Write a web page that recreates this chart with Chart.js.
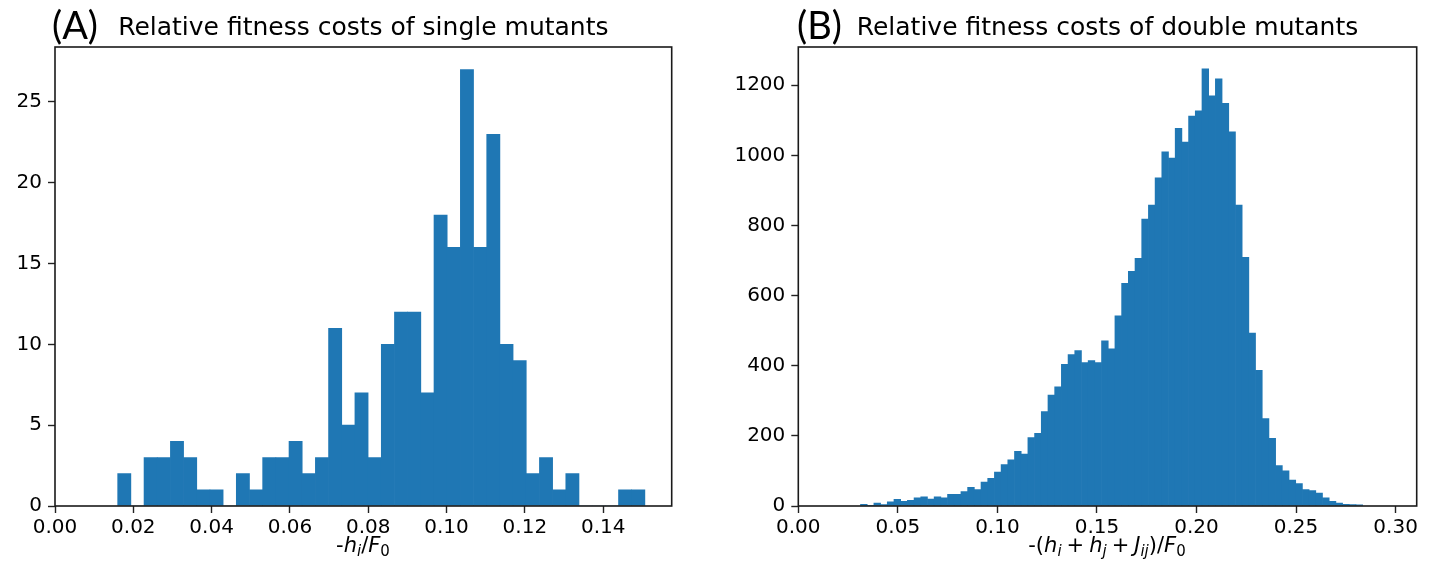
<!DOCTYPE html>
<html>
<head>
<meta charset="utf-8">
<script src="https://cdn.jsdelivr.net/npm/chart.js@4.4.1/dist/chart.umd.min.js"></script>
<style>
    html, body { margin: 0; padding: 0; background: #fff; }
    body { width: 1438px; height: 577px; position: relative; overflow: hidden; }
    .panel { position: absolute; top: 0; width: 719px; height: 577px; }
    #panelA { left: 0; }
    #panelB { left: 719px; }
    .tag { position: absolute; top: 2px; font-family: Lato, "Open Sans", sans-serif; font-size: 38px; line-height: 44px; color: #000; }
    .xlab { position: absolute; top: 533px; font-family: "DejaVu Sans", sans-serif; font-size: 21px; line-height: 24px;
            white-space: nowrap; transform: translateX(-50%); color: #000; }
    .xlab i { font-style: oblique; }
    .xlab sub { font-size: 15px; line-height: 0; vertical-align: -4px; }
    .xlab .op { padding: 0 5px; }
</style>
</head>
<body>
<div class="panel" id="panelA"><canvas id="chartA" width="719" height="577"></canvas></div>
<div class="panel" id="panelB"><canvas id="chartB" width="719" height="577"></canvas></div>

<div class="tag" style="left:52px">(A)</div>
<div class="tag" style="left:797px">(B)</div>
<div class="xlab" style="left:363px">-<i>h</i><sub><i>i</i></sub>/<i>F</i><sub>0</sub></div>
<div class="xlab" style="left:1107px">-(<i>h</i><sub><i>i</i></sub><span class="op">+</span><i>h</i><sub><i>j</i></sub><span class="op">+</span><i>J</i><sub><i>ij</i></sub>)/<i>F</i><sub>0</sub></div>

<script>
    // panel A: single mutants, 40 bins
    var titleA = 'Relative fitness costs of single mutants';
    var binStartA = 0.01601;
    var binWidthA = 0.003366;
    var countsA = [2, 0, 3, 3, 4, 3, 1, 1, 0, 2,
                   1, 3, 3, 4, 2, 3, 11, 5, 7, 3,
                   10, 12, 12, 7, 18, 16, 27, 16, 23, 10,
                   9, 2, 3, 1, 2, 0, 0, 0, 1, 1];
    var xTicksA = [0, 0.02, 0.04, 0.06, 0.08, 0.10, 0.12, 0.14];
    var yTicksA = [0, 5, 10, 15, 20, 25];

    // panel B: double mutants, 75 bins
    var titleB = 'Relative fitness costs of double mutants';
    var binStartB = 0.03124;
    var binWidthB = 0.003363;
    var countsB = [5, 1, 8, 4, 12, 19, 13, 16, 23, 26,
                   20, 26, 23, 33, 33, 41, 53, 47, 68, 79,
                   97, 118, 132, 156, 148, 195, 207, 269, 316, 340,
                   404, 432, 443, 409, 415, 409, 471, 448, 542, 635,
                   669, 706, 818, 858, 936, 1010, 992, 1077, 1038, 1112,
                   1127, 1247, 1170, 1218, 1148, 1067, 858, 709, 493, 387,
                   249, 193, 115, 100, 74, 64, 47, 44, 37, 23,
                   13, 8, 5, 4, 3];
    var xTicksB = [0, 0.05, 0.10, 0.15, 0.20, 0.25, 0.30];
    var yTicksB = [0, 200, 400, 600, 800, 1000, 1200];

    Chart.defaults.font.family = '"DejaVu Sans", sans-serif';
    Chart.defaults.color = '#000';

    // matplotlib-style box around the axes
    var framePlugin = {
        id: 'frame',
        afterDraw: function(chart) {
            var a = chart.chartArea;
            var ctx = chart.ctx;
            ctx.save();
            ctx.strokeStyle = '#1a1a1a';
            ctx.lineWidth = 1.6;
            ctx.strokeRect(a.left, a.top, a.right - a.left, a.bottom - a.top);
            ctx.restore();
        }
    };

    var histPoints = function(start, width, counts) {
        return counts.map(function(c, k) {
            return {x: start + width * (k + 0.5), y: c};
        });
    };

    var fixedTicks = function(list) {
        return function(axis) {
            axis.ticks = list.map(function(v) { return {value: v}; });
        };
    };

    var makeHist = function(canvasId, cfg) {
        return new Chart(document.getElementById(canvasId), {
            type: 'bar',
            data: {
                datasets: [{
                    data: histPoints(cfg.start, cfg.width, cfg.counts),
                    backgroundColor: '#1f77b4',
                    borderWidth: 0,
                    barPercentage: 1,
                    categoryPercentage: 1
                }]
            },
            plugins: [framePlugin],
            options: {
                responsive: false,
                animation: false,
                layout: {padding: {left: 0, right: cfg.padRight, top: 0, bottom: 0}},
                plugins: {
                    legend: {display: false},
                    tooltip: {enabled: false},
                    title: {
                        display: true,
                        text: cfg.title,
                        fullSize: false,
                        color: '#000',
                        font: {size: 25, weight: 'normal'},
                        padding: {top: 13, bottom: 4}
                    }
                },
                scales: {
                    x: {
                        type: 'linear',
                        min: 0,
                        max: cfg.xMax,
                        offset: false,
                        afterBuildTicks: fixedTicks(cfg.xTicks),
                        afterFit: function(axis) { axis.height = 71; },
                        border: {display: false},
                        grid: {offset: false, drawOnChartArea: false, tickLength: 7, tickColor: '#222', tickWidth: 1.4},
                        ticks: {
                            font: {size: 20},
                            padding: 3,
                            maxRotation: 0,
                            callback: function(v) { return v.toFixed(2); }
                        }
                    },
                    y: {
                        min: 0,
                        max: cfg.yMax,
                        afterBuildTicks: fixedTicks(cfg.yTicks),
                        afterFit: function(axis) { axis.width = cfg.yAxisWidth; },
                        border: {display: false},
                        grid: {drawOnChartArea: false, tickLength: 7, tickColor: '#222', tickWidth: 1.4},
                        ticks: {
                            font: {size: 20},
                            padding: 6,
                            callback: function(v) { return String(v); }
                        }
                    }
                }
            }
        });
    };

    makeHist('chartA', {
        title: titleA, start: binStartA, width: binWidthA, counts: countsA,
        xTicks: xTicksA, yTicks: yTicksA, xMax: 0.1575, yMax: 28.4,
        yAxisWidth: 55, padRight: 47.3
    });

    makeHist('chartB', {
        title: titleB, start: binStartB, width: binWidthB, counts: countsB,
        xTicks: xTicksB, yTicks: yTicksB, xMax: 0.3106, yMax: 1309,
        yAxisWidth: 79.3, padRight: 21.3
    });
</script>
</body>
</html>
